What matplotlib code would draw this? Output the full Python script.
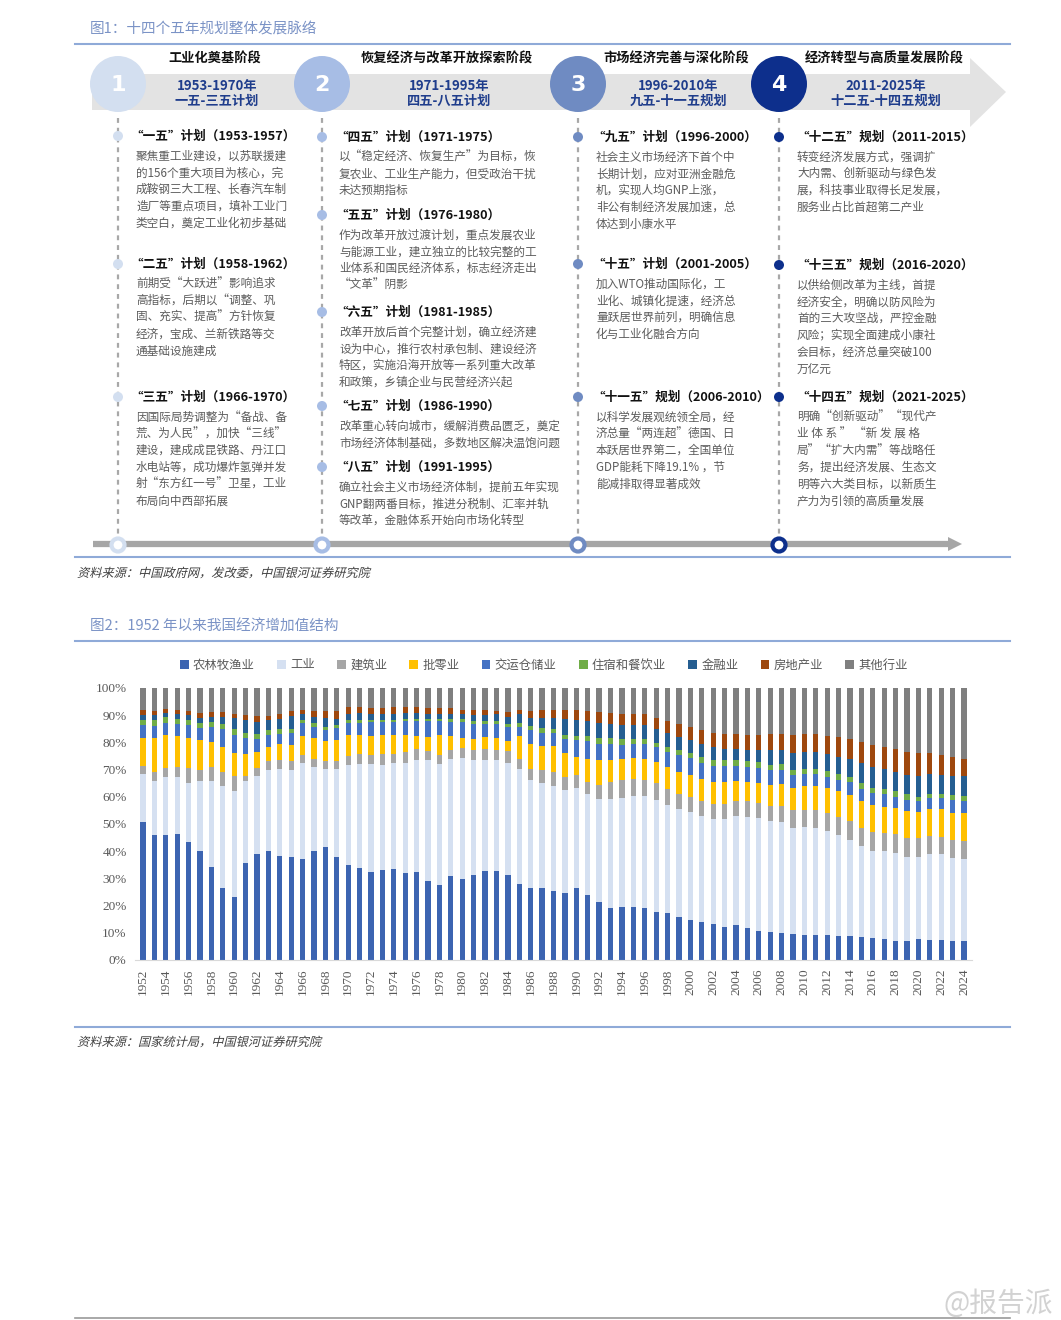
import numpy as np
import matplotlib
matplotlib.use("Agg")
import matplotlib.pyplot as plt
from matplotlib.patches import Circle, Polygon, PathPatch
from matplotlib.textpath import TextPath
from matplotlib.font_manager import FontProperties
from matplotlib.transforms import Affine2D

plt.rcParams['font.family'] = ['Noto Sans CJK SC', 'DejaVu Sans']

# ---------------- data: figure 2 (shares of value added, %) ----------------
years = list(range(1952, 2025))
sectors = ['农林牧渔业', '工业', '建筑业', '批零业', '交运仓储业',
           '住宿和餐饮业', '金融业', '房地产业', '其他行业']
colors = ['#3c64b1', '#d5e0f1', '#a6a6a6', '#ffc000', '#4472c4',
          '#70ad47', '#255e91', '#9e480e', '#7f7f7f']

agri = [50.7, 46.0, 45.8, 46.4, 43.3, 40.2, 34.1, 26.5, 23.1, 35.8,
        39.0, 40.0, 38.2, 37.7, 37.2, 40.0, 41.7, 37.8, 34.8, 33.7,
        32.5, 33.0, 33.5, 31.9, 32.3, 29.0, 27.6, 30.8, 29.6, 31.3,
        32.9, 32.6, 31.4, 28.0, 26.6, 26.3, 25.4, 24.7, 26.6, 23.9,
        21.2, 19.3, 19.4, 19.5, 19.2, 17.8, 17.1, 15.9, 14.6, 13.9,
        13.2, 12.2, 12.9, 11.6, 10.6, 10.2, 10.1, 9.7, 9.3, 9.1,
        9.1, 8.9, 8.7, 8.5, 8.2, 7.7, 7.1, 7.1, 7.6, 7.2,
        7.3, 7.1, 6.9]
industry = [17.6, 19.9, 21.6, 21.0, 21.9, 25.7, 31.8, 37.5, 39.2, 30.1,
            28.7, 29.9, 32.0, 32.2, 35.1, 30.8, 28.7, 32.4, 36.9, 38.2,
            39.4, 38.8, 39.1, 40.6, 41.3, 44.4, 44.3, 43.0, 44.8, 42.4,
            40.7, 41.0, 41.2, 42.4, 39.7, 38.7, 38.6, 37.9, 36.7, 37.2,
            38.1, 39.8, 40.2, 40.7, 41.2, 41.2, 39.8, 39.7, 39.9, 39.1,
            38.8, 39.8, 40.1, 41.0, 41.5, 41.0, 40.7, 38.9, 39.5, 39.5,
            38.3, 36.9, 35.5, 33.3, 32.0, 32.3, 32.2, 30.9, 30.2, 31.6,
            31.6, 30.4, 30.3]
construction = [3.2, 3.4, 3.3, 3.5, 5.4, 4.0, 5.0, 5.2, 5.4, 1.8,
                2.9, 3.4, 3.4, 3.2, 3.0, 3.1, 2.9, 3.1, 3.4, 3.8,
                3.4, 4.0, 3.2, 4.0, 3.9, 3.5, 3.6, 3.5, 3.5, 3.6,
                3.9, 3.7, 4.2, 3.6, 4.0, 4.8, 5.0, 4.8, 4.6, 4.5,
                5.1, 6.4, 6.5, 6.2, 5.9, 5.9, 5.8, 5.5, 5.3, 5.4,
                5.4, 5.5, 5.4, 5.7, 5.6, 5.4, 5.8, 6.5, 6.4, 6.6,
                6.6, 6.7, 6.8, 6.9, 6.9, 6.6, 7.1, 7.0, 7.0, 6.7,
                6.4, 6.5, 6.5]
retail = [10.3, 12.5, 12.1, 11.6, 11.2, 11.1, 9.3, 9.1, 8.3, 8.1,
          5.7, 5.1, 5.7, 5.9, 7.2, 7.8, 7.1, 7.4, 7.6, 6.9,
          7.2, 7.1, 7.1, 6.3, 5.0, 5.2, 7.2, 5.0, 3.9, 3.8,
          4.6, 4.2, 3.6, 8.2, 9.2, 8.9, 9.6, 8.7, 6.7, 8.4,
          9.1, 7.9, 7.9, 7.7, 7.7, 7.9, 8.1, 8.2, 8.1, 8.2,
          8.0, 8.0, 7.5, 7.3, 7.5, 7.8, 8.2, 8.3, 8.7, 8.8,
          9.2, 9.5, 9.7, 9.8, 9.8, 9.8, 9.3, 9.8, 9.7, 10.0,
          10.2, 10.2, 10.4]
transport = [4.5, 4.3, 4.3, 4.1, 4.5, 4.2, 5.4, 6.6, 6.9, 5.7,
             5.0, 4.4, 3.9, 4.3, 4.5, 4.1, 4.0, 4.5, 4.3, 4.4,
             4.9, 4.6, 4.7, 4.9, 5.2, 5.8, 5.2, 5.3, 5.8, 5.5,
             4.5, 5.1, 5.1, 3.4, 4.9, 4.6, 4.7, 5.1, 6.1, 6.5,
             6.0, 6.0, 5.1, 5.3, 5.4, 5.4, 5.6, 5.9, 6.2, 6.0,
             6.1, 5.9, 5.5, 5.3, 5.5, 5.3, 5.1, 4.7, 4.4, 4.5,
             4.2, 4.3, 4.6, 4.3, 4.4, 4.6, 4.4, 4.2, 3.9, 3.9,
             3.9, 4.5, 4.4]
hotel = [2.0, 2.2, 2.1, 2.1, 2.0, 2.1, 2.0, 2.0, 2.0, 1.8,
         1.8, 1.6, 1.7, 1.6, 1.3, 1.4, 1.4, 1.1, 1.1, 1.1,
         0.9, 0.8, 0.7, 0.9, 0.9, 0.7, 0.8, 1.0, 1.0, 1.3,
         1.3, 1.1, 1.4, 1.4, 1.5, 1.9, 1.7, 1.6, 1.8, 1.7,
         2.2, 2.2, 2.1, 1.9, 1.9, 1.7, 1.8, 2.1, 2.1, 2.1,
         2.2, 2.3, 2.3, 2.1, 2.2, 2.1, 2.1, 1.8, 2.0, 1.9,
         2.0, 2.2, 1.8, 2.2, 1.9, 2.0, 1.9, 2.1, 1.7, 1.7,
         1.7, 1.8, 1.9]
finance = [1.9, 1.6, 1.6, 1.7, 1.6, 1.5, 1.7, 2.3, 4.0, 5.0,
           4.3, 3.7, 3.8, 4.9, 2.0, 2.2, 3.1, 2.4, 2.5, 2.6,
           2.3, 2.3, 2.3, 2.2, 2.2, 2.0, 1.9, 1.8, 1.8, 2.3,
           2.2, 2.7, 2.5, 3.3, 3.1, 3.7, 4.0, 5.9, 5.7, 5.7,
           5.4, 5.1, 5.1, 5.1, 5.1, 5.1, 5.1, 4.7, 4.8, 4.7,
           4.5, 4.0, 4.0, 4.3, 4.4, 5.5, 5.3, 6.2, 6.0, 5.9,
           6.4, 6.3, 6.9, 7.4, 7.8, 7.2, 7.3, 7.0, 7.6, 7.4,
           7.0, 7.2, 7.1]
realestate = [1.8, 1.5, 1.5, 1.6, 1.8, 2.0, 1.9, 1.8, 1.7, 1.9,
              2.2, 1.5, 1.7, 1.9, 1.7, 2.1, 2.5, 2.7, 2.3, 2.2,
              2.0, 1.9, 2.4, 2.1, 2.2, 1.9, 2.0, 2.1, 1.5, 1.6,
              1.7, 1.1, 1.9, 1.5, 2.5, 3.1, 3.0, 3.3, 3.6, 3.6,
              4.2, 4.1, 4.3, 4.2, 3.9, 4.1, 4.7, 4.9, 4.6, 5.1,
              5.2, 5.5, 5.5, 5.5, 5.5, 5.9, 5.9, 6.5, 6.8, 6.9,
              6.7, 7.2, 7.3, 7.6, 8.0, 8.2, 8.4, 8.5, 8.3, 7.6,
              7.2, 6.8, 6.4]
others = [8.0, 8.6, 7.7, 8.0, 8.3, 9.2, 8.8, 9.0, 9.4, 9.8,
          10.4, 10.4, 9.6, 8.3, 8.0, 8.5, 8.6, 8.6, 7.1, 7.1,
          7.4, 7.5, 7.0, 7.1, 7.0, 7.5, 7.4, 7.5, 8.1, 8.2,
          8.2, 8.5, 8.7, 8.2, 8.5, 8.0, 8.0, 8.0, 8.2, 8.5,
          8.7, 9.2, 9.4, 9.4, 9.7, 10.9, 12.0, 13.1, 14.4, 15.5,
          16.6, 16.8, 16.8, 17.2, 17.2, 16.8, 16.8, 17.4, 16.9, 16.8,
          17.5, 18.0, 18.7, 20.0, 21.0, 21.6, 22.3, 23.4, 24.0, 23.9,
          24.7, 25.5, 26.1]
series = [agri, industry, construction, retail, transport, hotel, finance, realestate, others]

# ---------------- data: figure 1 (timeline) ----------------
stage_titles = ['工业化奠基阶段', '恢复经济与改革开放探索阶段', '市场经济完善与深化阶段', '经济转型与高质量发展阶段']
stage_years = ['1953-1970年', '1971-1995年', '1996-2010年', '2011-2025年']
stage_plans = ['一五-三五计划', '四五-八五计划', '九五-十一五规划', '十二五-十四五规划']
stage_colors = ['#d3dff0', '#a7bde5', '#6f8bc2', '#0d2f8c']

plans = [
    [('“一五”计划（1953-1957）', ['聚焦重工业建设，以苏联援建', '的156个重大项目为核心，完', '成鞍钢三大工程、长春汽车制',
                               '造厂等重点项目，填补工业门', '类空白，奠定工业化初步基础']),
     ('“二五”计划（1958-1962）', ['前期受“大跃进”影响追求', '高指标，后期以“调整、巩', '固、充实、提高”方针恢复',
                               '经济，宝成、兰新铁路等交', '通基础设施建成']),
     ('“三五”计划（1966-1970）', ['因国际局势调整为“备战、备', '荒、为人民”，加快“三线”', '建设，建成成昆铁路、丹江口',
                               '水电站等，成功爆炸氢弹并发', '射“东方红一号”卫星，工业', '布局向中西部拓展'])],
    [('“四五”计划（1971-1975）', ['以“稳定经济、恢复生产”为目标，恢', '复农业、工业生产能力，但受政治干扰', '未达预期指标']),
     ('“五五”计划（1976-1980）', ['作为改革开放过渡计划，重点发展农业', '与能源工业，建立独立的比较完整的工',
                               '业体系和国民经济体系，标志经济走出', '“文革”阴影']),
     ('“六五”计划（1981-1985）', ['改革开放后首个完整计划，确立经济建', '设为中心，推行农村承包制、建设经济',
                               '特区，实施沿海开放等一系列重大改革', '和政策，乡镇企业与民营经济兴起']),
     ('“七五”计划（1986-1990）', ['改革重心转向城市，缓解消费品匮乏，奠定', '市场经济体制基础，多数地区解决温饱问题']),
     ('“八五”计划（1991-1995）', ['确立社会主义市场经济体制，提前五年实现', 'GNP翻两番目标，推进分税制、汇率并轨',
                               '等改革，金融体系开始向市场化转型'])],
    [('“九五”计划（1996-2000）', ['社会主义市场经济下首个中', '长期计划，应对亚洲金融危', '机，实现人均GNP上涨，',
                               '非公有制经济发展加速，总', '体达到小康水平']),
     ('“十五”计划（2001-2005）', ['加入WTO推动国际化，工', '业化、城镇化提速，经济总', '量跃居世界前列，明确信息',
                               '化与工业化融合方向']),
     ('“十一五”规划（2006-2010）', ['以科学发展观统领全局，经', '济总量“两连超”德国、日', '本跃居世界第二，全国单位',
                                 'GDP能耗下降19.1% ，节', '能减排取得显著成效'])],
    [('“十二五”规划（2011-2015）', ['转变经济发展方式，强调扩', '大内需、创新驱动与绿色发', '展，科技事业取得长足发展，',
                                 '服务业占比首超第二产业']),
     ('“十三五”规划（2016-2020）', ['以供给侧改革为主线，首提', '经济安全，明确以防风险为', '首的三大攻坚战，严控金融',
                                 '风险；实现全面建成小康社', '会目标，经济总量突破100', '万亿元']),
     ('“十四五”规划（2021-2025）', ['明确“创新驱动”“现代产', '业 体 系 ” “新 发 展 格', '局”“扩大内需”等战略任',
                                 '务，提出经济发展、生态文', '明等六大类目标，以新质生', '产力为引领的高质量发展'])],
]

# layout (pixels)
col_x = [118, 322, 578, 779]
head_x = [130, 335, 592, 796]
body_x = [136, 339, 596, 797]
head_y = [[136, 264, 397], [137, 215, 312, 406, 467], [137, 264, 397], [137, 265, 397]]
stage_cx = [215, 447, 676, 884]

W, H = 1061, 1320
fig = plt.figure(figsize=(W / 100, H / 100), dpi=100)
bg = fig.add_axes([0, 0, 1, 1])
bg.set_xlim(0, W)
bg.set_ylim(H, 0)
bg.axis('off')

title_c = '#7b93c6'
rule_c = '#8faad8'
cjk = FontProperties(family='Noto Sans CJK SC')


def slanted_text(x, y, s, size, color):
    # CJK fonts have no italic face, so shear the glyph outlines instead
    tp = TextPath((0, 0), s, size=size, prop=cjk)
    tr = Affine2D().skew_deg(14, 0).scale(1, -1).translate(x, y)
    bg.add_patch(PathPatch(tr.transform_path(tp), facecolor=color, edgecolor='none', lw=0))


# ---- figure 1 ----
bg.text(90, 30, '图1：十四个五年规划整体发展脉络', fontsize=10.5, color=title_c, va='center')
bg.plot([75, 1010], [44, 44], color=rule_c, lw=1.5)

bg.add_patch(Polygon([(92, 74), (970, 74), (970, 58), (1006, 92), (970, 127), (970, 110), (92, 110)],
                     closed=True, facecolor='#e3e3e3', edgecolor='none'))
for i in range(4):
    bg.add_patch(Circle((col_x[i], 84), 28, facecolor=stage_colors[i], edgecolor='none', zorder=3))
    bg.text(col_x[i], 85, str(i + 1), color='white', fontsize=16, fontweight='bold',
            ha='center', va='center', zorder=4, family='DejaVu Sans')
    bg.text(stage_cx[i], 59, stage_titles[i], fontsize=9.5, fontweight='bold', color='#111111',
            ha='center', va='center')
    bg.text(stage_cx[i] + 2, 86, stage_years[i], fontsize=9.5, fontweight='bold', color='#1f3d8c',
            ha='center', va='center')
    bg.text(stage_cx[i] + 2, 101, stage_plans[i], fontsize=9.5, fontweight='bold', color='#1f3d8c',
            ha='center', va='center')

    # dashed vertical guide
    bg.plot([col_x[i], col_x[i]], [118, 538], color='#a8a8a8', lw=1.6, ls=(0, (2.2, 2.2)), zorder=1)
    for j, (head, lines) in enumerate(plans[i]):
        y = head_y[i][j]
        bg.add_patch(Circle((col_x[i], y), 5, facecolor=stage_colors[i], edgecolor='none', zorder=3))
        bg.text(head_x[i], y, head, fontsize=9.1, fontweight='bold', color='#111111', va='center')
        for k, line in enumerate(lines):
            bg.text(body_x[i], y + 20 + k * 16.8, line, fontsize=8.4, color='#5c5c5c', va='center')

# bottom timeline arrow
bg.plot([93, 950], [544, 544], color='#a6a6a6', lw=4.5, solid_capstyle='butt', zorder=2)
bg.add_patch(Polygon([(948, 537), (962, 544), (948, 551)], closed=True, facecolor='#a6a6a6',
                     edgecolor='none', zorder=2))
for i in range(4):
    bg.add_patch(Circle((col_x[i], 545), 6.5, facecolor='white', edgecolor=stage_colors[i], lw=3, zorder=4))

bg.plot([75, 1010], [557, 557], color=rule_c, lw=1.5)
slanted_text(77, 577, '资料来源：中国政府网，发改委，中国银河证券研究院', 12.2, '#404040')

# ---- figure 2 ----
bg.text(90, 627, '图2：1952 年以来我国经济增加值结构', fontsize=10.5, color=title_c, va='center')
bg.plot([75, 1010], [641, 641], color=rule_c, lw=1.5)
bg.plot([75, 1010], [1027, 1027], color=rule_c, lw=1.5)
slanted_text(77, 1046, '资料来源：国家统计局，中国银河证券研究院', 12.2, '#404040')
bg.plot([75, 1010], [1318, 1318], color='#9a9a9a', lw=1.2)
bg.text(1053, 1304, '@报告派', fontsize=20, color='#d2d2d2', ha='right', va='center')

ax = fig.add_axes([135 / W, 1 - 960 / H, (972 - 135) / W, 272 / H])
x = np.arange(len(years))
bottom = np.zeros(len(years))
for name, vals, c in zip(sectors, series, colors):
    vals = np.array(vals) / 100.0
    ax.bar(x, vals, width=0.46, bottom=bottom, color=c, label=name, linewidth=0)
    bottom += vals

ax.set_xlim(-0.7, len(years) - 0.3)
ax.set_ylim(0, 1.0)
ax.set_yticks(np.arange(0, 1.01, 0.1))
ax.set_yticklabels([f'{int(v)}%' for v in range(0, 101, 10)], family='Liberation Serif',
                   fontsize=9.5, color='#595959')
ax.set_xticks(x[::2])
ax.set_xticklabels([str(y) for y in years[::2]], rotation=90, family='Liberation Serif',
                   fontsize=9.5, color='#595959')
ax.tick_params(length=0, pad=6)
for s in ['top', 'right', 'left']:
    ax.spines[s].set_visible(False)
ax.spines['bottom'].set_color('#d9d9d9')
ax.patch.set_alpha(0)

fig.legend(*ax.get_legend_handles_labels(), loc='center', bbox_to_anchor=(544 / W, 1 - 665 / H),
           ncol=9, frameon=False, fontsize=8.9, handlelength=0.7, handleheight=0.7,
           handletextpad=0.35, columnspacing=1.8, labelcolor='#595959')

fig.savefig('out.png', dpi=100)
